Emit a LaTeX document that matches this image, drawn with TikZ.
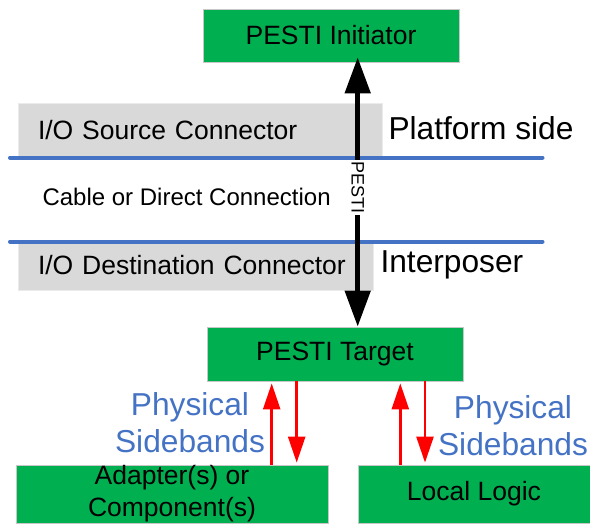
\documentclass[tikz,border=0pt]{standalone}
\usepackage{fontspec}
\setmainfont{Liberation Sans}
\usetikzlibrary{arrows.meta,calc}
\definecolor{boxgreen}{RGB}{0,176,80}
\definecolor{conngray}{RGB}{217,217,217}
\definecolor{lineblue}{RGB}{68,114,196}
\definecolor{sbred}{RGB}{255,0,0}

\begin{document}
\begin{tikzpicture}[x=1pt,y=-1pt,
	greenbox/.style={draw=black!22,line width=0.8pt,fill=boxgreen,inner sep=0pt,align=center,font=\fontsize{26.5}{31.8}\selectfont},
	connbox/.style={draw=black!8,line width=0.8pt,fill=conngray,inner xsep=20pt,inner ysep=0pt,align=left,font=\fontsize{26.5}{31.8}\selectfont},
	sidelabel/.style={font=\fontsize{31.7}{37}\selectfont},
	sbandlabel/.style={text=lineblue,align=center,font=\fontsize{31.7}{37}\selectfont},
	pestiarrow/.style={line width=5pt,{Triangle[length=36pt,width=25pt]}-{Triangle[length=36pt,width=25pt]}},
	sbarrow/.style={sbred,line width=2.5pt,-{Triangle[length=26pt,width=17pt]}},
	boundary/.style={lineblue,line width=4pt,line cap=round}]
	\useasboundingbox (0,0) rectangle (590,523);
	\node[greenbox,minimum width=256pt,minimum height=53pt] at (331,35.5) (init) {PESTI Initiator};
	\node[connbox,text width=324pt,minimum height=54pt] at (200,130) (src) {I/O Source Connector};
	\node[connbox,text width=315pt,minimum height=49pt] at (195.5,265.5) (dst) {I/O Destination Connector};
	\node[greenbox,minimum width=256pt,minimum height=54pt] at (335,354) (tgt) {PESTI Target};
	\node[greenbox,minimum width=312pt,minimum height=58pt] at (172,494) (adp) {Adapter(s) or\\Component(s)};
	\node[greenbox,minimum width=232pt,minimum height=58pt] at (474,494) (loc) {Local Logic};
	\coordinate (platl) at (10,157.5);
	\coordinate (platr) at (542.5,157.5);
	\coordinate (intl) at (10,241.5);
	\coordinate (intr) at (542.5,241.5);
	\draw[boundary] (platl) -- (platr);
	\draw[boundary] (intl) -- (intr);
	\node[sidelabel,anchor=base west] at (385,139) (plat) {Platform side};
	\node[sidelabel,anchor=base west] at (377,272) (intp) {Interposer};
	\node[anchor=west,font=\fontsize{24}{28}\selectfont] at (39,197) (cable) {Cable or Direct Connection};
	\coordinate (pestix) at (357.7,0);
	\draw[pestiarrow,shorten >=-5pt] (tgt.north -| pestix) -- (init.south -| pestix)
		node[pos=0.525,rotate=-90,fill=white,inner xsep=1.5pt,inner ysep=0pt,font=\fontsize{18}{21}\selectfont] (pesti) {PESTI};
	\coordinate (adpup) at (271.7,0);
	\coordinate (adpdn) at (296.7,0);
	\coordinate (locup) at (400.3,0);
	\coordinate (locdn) at (425,0);
	\draw[sbarrow,shorten >=2pt] (adp.north -| adpup) -- (tgt.south -| adpup);
	\draw[sbarrow,shorten >=2pt] (tgt.south -| adpdn) -- (adp.north -| adpdn);
	\draw[sbarrow,shorten >=2pt] (loc.north -| locup) -- (tgt.south -| locup);
	\draw[sbarrow,shorten >=2pt] (tgt.south -| locdn) -- (loc.north -| locdn);
	\node[sbandlabel] at (190,423) (sbl) {Physical\\Sidebands};
	\node[sbandlabel] at (513,426) (sbr) {Physical\\Sidebands};
\end{tikzpicture}
\end{document}
